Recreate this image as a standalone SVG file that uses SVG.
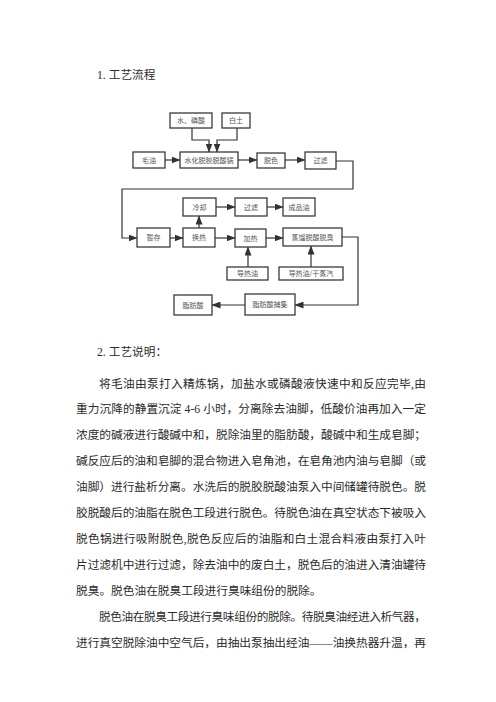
<svg xmlns="http://www.w3.org/2000/svg" width="496" height="702" viewBox="0 0 496 702">
<defs>
<style>
.b{fill:#fff;stroke:#3a3a3a;stroke-width:1.3}
.t{font-family:"Noto Sans CJK SC","Noto Sans",sans-serif;font-size:7px;fill:#555;text-anchor:middle}
.c{fill:none;stroke:#333;stroke-width:1.2}
.p{font-family:"Liberation Serif","Noto Sans CJK SC",serif;font-size:11.7px;fill:#2a2a2a}
</style>
<marker id="a" markerUnits="userSpaceOnUse" markerWidth="9" markerHeight="7" refX="8.5" refY="3.5" orient="auto"><path d="M0,0 L9,3.5 L0,7 Z" fill="#333"/></marker>
</defs>
<rect width="496" height="702" fill="#fff"/>
<text class="p" x="97" y="79">1. 工艺流程</text>
<g id="connectors">
<path class="c" d="M192,128 V140 H209 V152" marker-end="url(#a)"/>
<path class="c" d="M237,128 V140 H217 V152" marker-end="url(#a)"/>
<path class="c" d="M165,160 H180" marker-end="url(#a)"/>
<path class="c" d="M238,160 H257" marker-end="url(#a)"/>
<path class="c" d="M285,160 H305" marker-end="url(#a)"/>
<path class="c" d="M336,161 H353 V189 H122 V238 H137" marker-end="url(#a)"/>
<path class="c" d="M170,238 H183" marker-end="url(#a)"/>
<path class="c" d="M199,228 V216" marker-end="url(#a)"/>
<path class="c" d="M216,207 H235" marker-end="url(#a)"/>
<path class="c" d="M267,207 H283" marker-end="url(#a)"/>
<path class="c" d="M215,238 H235" marker-end="url(#a)"/>
<path class="c" d="M266,238 H283" marker-end="url(#a)"/>
<path class="c" d="M248,267 V247" marker-end="url(#a)"/>
<path class="c" d="M311,267 V246" marker-end="url(#a)"/>
<path class="c" d="M342,237 H358 V305 H295" marker-end="url(#a)"/>
<path class="c" d="M245,305 H212" marker-end="url(#a)"/>
</g>
<g id="n1"><rect class="b" x="170" y="113" width="42" height="15"/><text class="t" x="191" y="123">水、磷酸</text></g>
<g id="n2"><rect class="b" x="222" y="113" width="28" height="15"/><text class="t" x="236" y="123">白土</text></g>
<g id="n3"><rect class="b" x="133" y="152" width="32" height="16"/><text class="t" x="149" y="162.5">毛油</text></g>
<g id="n4"><rect class="b" x="180" y="152" width="58" height="16"/><text class="t" x="209" y="162.5">水化脱胶脱酸锅</text></g>
<g id="n5"><rect class="b" x="257" y="153" width="28" height="15"/><text class="t" x="271" y="163">脱色</text></g>
<g id="n6"><rect class="b" x="305" y="152" width="31" height="17"/><text class="t" x="320.5" y="163">过滤</text></g>
<g id="n7"><rect class="b" x="183" y="198" width="33" height="18"/><text class="t" x="199.5" y="209.5">冷却</text></g>
<g id="n8"><rect class="b" x="235" y="198" width="32" height="18"/><text class="t" x="251" y="209.5">过滤</text></g>
<g id="n9"><rect class="b" x="283" y="198" width="32" height="18"/><text class="t" x="299" y="209.5">成品油</text></g>
<g id="n10"><rect class="b" x="137" y="228" width="33" height="19"/><text class="t" x="153.5" y="240">暂存</text></g>
<g id="n11"><rect class="b" x="183" y="228" width="32" height="19"/><text class="t" x="199" y="240">换热</text></g>
<g id="n12"><rect class="b" x="235" y="229" width="31" height="18"/><text class="t" x="250.5" y="240.5">加热</text></g>
<g id="n13"><rect class="b" x="283" y="228" width="59" height="18"/><text class="t" x="312.5" y="239.5">蒸馏脱酸脱臭</text></g>
<g id="n14"><rect class="b" x="227" y="267" width="41" height="13"/><text class="t" x="247.5" y="276">导热油</text></g>
<g id="n15"><rect class="b" x="279" y="267" width="64" height="13"/><text class="t" x="311" y="276">导热油/干蒸汽</text></g>
<g id="n16"><rect class="b" x="174" y="295" width="38" height="20"/><text class="t" x="193" y="307.5">脂肪酸</text></g>
<g id="n17"><rect class="b" x="245" y="294" width="50" height="21"/><text class="t" x="270" y="307">脂肪酸捕集</text></g>
<text class="p" x="97" y="356">2. 工艺说明：</text>
<g id="body">
<text class="p" x="99" y="387.5" textLength="327" lengthAdjust="spacing">将毛油由泵打入精炼锅，加盐水或磷酸液快速中和反应完毕,由</text>
<text class="p" x="76" y="413.4" textLength="350" lengthAdjust="spacing">重力沉降的静置沉淀 4-6 小时，分离除去油脚，低酸价油再加入一定</text>
<text class="p" x="76" y="439.3" textLength="350" lengthAdjust="spacing">浓度的碱液进行酸碱中和，脱除油里的脂肪酸，酸碱中和生成皂脚；</text>
<text class="p" x="76" y="465.2" textLength="350" lengthAdjust="spacing">碱反应后的油和皂脚的混合物进入皂角池，在皂角池内油与皂脚（或</text>
<text class="p" x="76" y="491.1" textLength="350" lengthAdjust="spacing">油脚）进行盐析分离。水洗后的脱胶脱酸油泵入中间储罐待脱色。脱</text>
<text class="p" x="76" y="517" textLength="350" lengthAdjust="spacing">胶脱酸后的油脂在脱色工段进行脱色。待脱色油在真空状态下被吸入</text>
<text class="p" x="76" y="542.9" textLength="350" lengthAdjust="spacing">脱色锅进行吸附脱色,脱色反应后的油脂和白土混合料液由泵打入叶</text>
<text class="p" x="76" y="568.8" textLength="350" lengthAdjust="spacing">片过滤机中进行过滤，除去油中的废白土，脱色后的油进入清油罐待</text>
<text class="p" x="76" y="594.7">脱臭。脱色油在脱臭工段进行臭味组份的脱除。</text>
<text class="p" x="99" y="620.6" textLength="327" lengthAdjust="spacing">脱色油在脱臭工段进行臭味组份的脱除。待脱臭油经进入析气器，</text>
<text class="p" x="76" y="646.5" textLength="350" lengthAdjust="spacing">进行真空脱除油中空气后，由抽出泵抽出经油——油换热器升温，再</text>
</g>
</svg>
